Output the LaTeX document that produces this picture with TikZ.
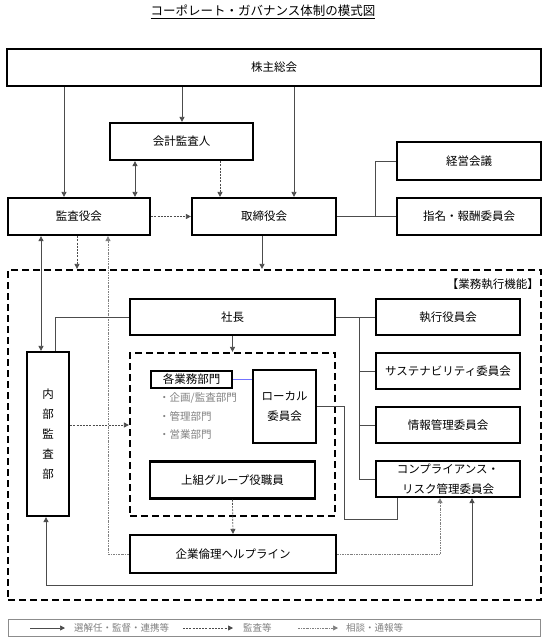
\documentclass[tikz,border=0pt]{standalone}
\usepackage{fontspec}
\newfontfamily\jp{Noto Sans CJK JP}
\usetikzlibrary{arrows.meta,calc}
\begin{document}
\begin{tikzpicture}[x=1pt,y=-1pt,
  box/.style={draw, line width=2.2pt, inner sep=0pt, align=center,
    font=\jp\fontsize{11.5}{20}\selectfont},
  dbox/.style={draw, line width=2.2pt, dash pattern=on 7pt off 4pt, inner sep=0pt},
  conn/.style={line width=0.7pt, draw=black!70},
  tip/.style={-{Triangle[length=5pt,width=5pt]}},
  arr/.style={conn, tip},
  darr/.style={conn, {Triangle[length=5pt,width=5pt]}-{Triangle[length=5pt,width=5pt]}},
  audit/.style={conn, dash pattern=on 2pt off 1.2pt, tip},
  consult/.style={line width=0.7pt, draw=black!50, dash pattern=on 2pt off 1pt on 0.7pt off 1pt, tip},
  graytext/.style={inner sep=0pt, text=black!50, font=\jp\fontsize{9.5}{11}\selectfont},
  listtext/.style={inner sep=0pt, text=black!50, font=\jp\fontsize{10.5}{12}\selectfont},
]
\useasboundingbox (0,0) rectangle (547,638);

% title
\node[font=\jp\fontsize{12.5}{14}\selectfont, inner sep=0pt] (title) at (263,12) {\underline{コーポレート・ガバナンス体制の模式図}};

% upper boxes
\node[box, minimum width=534, minimum height=37] (soukai) at (274,67.5) {株主総会};
\node[box, minimum width=143, minimum height=37] (kaikei) at (181.5,141.5) {会計監査人};
\node[box, minimum width=142, minimum height=37] (kansa) at (79,216.5) {監査役会};
\node[box, minimum width=144, minimum height=37] (torishimari) at (264,216.5) {取締役会};
\node[box, minimum width=144, minimum height=38] (keiei) at (469,161) {経営会議};
\node[box, minimum width=144, minimum height=37] (shimei) at (469,216.5) {指名・報酬委員会};

% business execution area
\node[dbox, minimum width=533, minimum height=330] (gyomu) at (274.5,435) {};
\node[anchor=east, inner sep=0pt, font=\jp\fontsize{11.5}{14}\selectfont] (glabel) at (539,284) {【業務執行機能】};

\node[box, minimum width=205, minimum height=36] (shachou) at (232.5,317) {社長};
\node[box, minimum width=42, minimum height=164] (naibu) at (48,434) {内\\部\\監\\査\\部};
\node[dbox, minimum width=205, minimum height=163] (inner) at (232.5,434.5) {};
\node[box, minimum width=81, minimum height=17] (kakugyomu) at (191.5,379.5) {各業務部門};
\node[listtext, anchor=west] (l1) at (159,398) {・企画/監査部門};
\node[listtext, anchor=west] (l2) at (159,416) {・管理部門};
\node[listtext, anchor=west] (l3) at (159,434) {・営業部門};
\node[box, minimum width=63, minimum height=73] (local) at (284.5,406.5) {ローカル\\委員会};
\node[box, minimum width=165, minimum height=37] (kamigumi) at (232.5,480) {上組グループ役職員};
\node[box, minimum width=206, minimum height=38] (helpline) at (233,554) {企業倫理ヘルプライン};

\node[box, minimum width=144, minimum height=36] (shikkou) at (448,317) {執行役員会};
\node[box, minimum width=144, minimum height=36] (sustain) at (448,371) {サステナビリティ委員会};
\node[box, minimum width=144, minimum height=36] (jouhou) at (448,425) {情報管理委員会};
\node[box, minimum width=144, minimum height=36] (compliance) at (448,479) {コンプライアンス・\\リスク管理委員会};

% helper coordinates
\coordinate (vA) at (64,0);
\coordinate (vB) at (182,0);
\coordinate (vC) at (294,0);
\coordinate (vD) at (135,0);
\coordinate (vE) at (220,0);
\coordinate (vF) at (262,0);
\coordinate (vG) at (77,0);
\coordinate (vH) at (41,0);
\coordinate (vI) at (108,0);
\coordinate (vJ) at (440,0);
\coordinate (vK) at (55,0);
\coordinate (vL) at (344,0);
\coordinate (vM) at (397,0);
\coordinate (vN) at (359,0);
\coordinate (vO) at (472,0);
\coordinate (vP) at (46,0);
\coordinate (vQ) at (375,0);
\coordinate (hA) at (0,425);
\coordinate (hC) at (0,519);
\coordinate (hD) at (0,585);

% connectors
\draw[arr] (soukai.south -| vA) -- (kansa.north -| vA);
\draw[arr] (soukai.south -| vB) -- (kaikei.north -| vB);
\draw[arr] (soukai.south -| vC) -- (torishimari.north -| vC);
\draw[darr] (kaikei.south -| vD) -- (kansa.north -| vD);
\draw[audit] (kaikei.south -| vE) -- (torishimari.north -| vE);
\draw[audit] (kansa.east) -- (torishimari.west);
\draw[conn] (torishimari.east) -- (shimei.west);
\draw[conn] (keiei.west) -| (shimei.west -| vQ);
\draw[arr] (torishimari.south -| vF) -- (gyomu.north -| vF);
\draw[audit] (kansa.south -| vG) -- (gyomu.north -| vG);
\draw[darr] (kansa.south -| vH) -- (naibu.north -| vH);
\draw[consult] (helpline.west) -| (kansa.south -| vI);
\draw[consult] (helpline.east) -| (compliance.south -| vJ);
\draw[conn] (shachou.west) -| (naibu.north -| vK);
\draw[arr] (shachou.south) -- (inner.north);
\draw[audit] (naibu.east |- hA) -- (inner.west |- hA);
\draw[line width=0.7pt, draw=blue!55] (kakugyomu.east) -- (local.west |- kakugyomu.east);
\draw[conn] (local.east) -| (vL |- hC) -| (compliance.south -| vM);
\draw[conn] (shachou.east) -- (shikkou.west);
\draw[conn] (shikkou.west -| vN) -- (compliance.west -| vN);
\draw[conn] (sustain.west -| vN) -- (sustain.west);
\draw[conn] (jouhou.west -| vN) -- (jouhou.west);
\draw[conn] (compliance.west -| vN) -- (compliance.west);
\draw[audit] (kamigumi.south) -- (helpline.north);
\draw[darr] (naibu.south -| vP) -- (vP |- hD) -- (vO |- hD) -- (compliance.south -| vO);

% legend
\node[draw=black!45, line width=0.6pt, minimum width=532, minimum height=17, inner sep=0pt] (legend) at (274,627.5) {};
\coordinate (g1a) at (30,628);
\coordinate (g1b) at (65,628);
\coordinate (g2a) at (183,628);
\coordinate (g2b) at (233,628);
\coordinate (g3a) at (298,628);
\coordinate (g3b) at (338,628);
\draw[arr] (g1a) -- (g1b);
\draw[audit] (g2a) -- (g2b);
\draw[consult] (g3a) -- (g3b);
\node[graytext, anchor=west] (t1) at (74,628) {選解任・監督・連携等};
\node[graytext, anchor=west] (t2) at (243,628) {監査等};
\node[graytext, anchor=west] (t3) at (346,628) {相談・通報等};
\end{tikzpicture}
\end{document}
